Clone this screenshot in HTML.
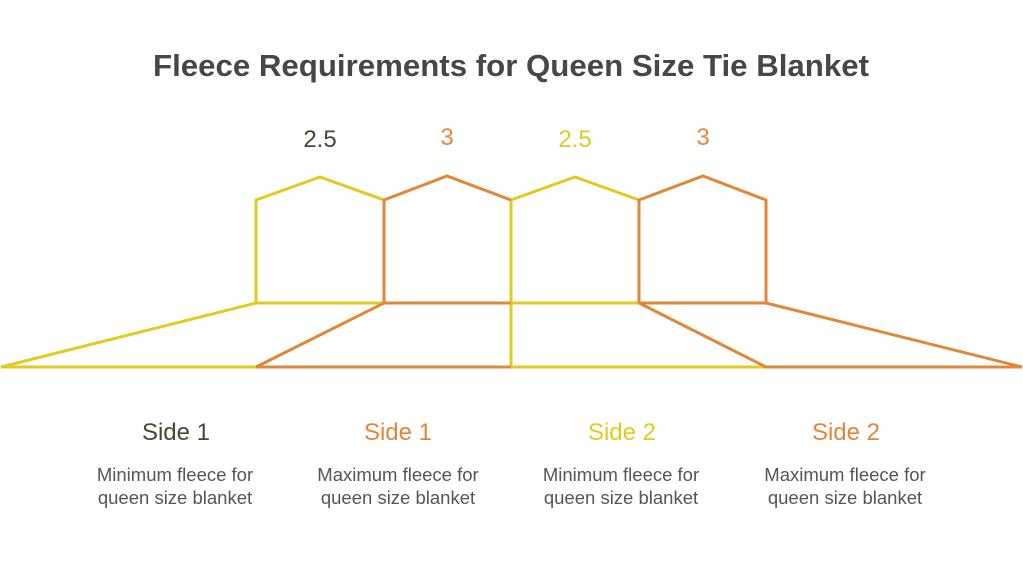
<!DOCTYPE html>
<html><head><style>
body{margin:0;background:#fff;width:1023px;height:558px;overflow:hidden;font-family:"Liberation Sans",sans-serif}
</style></head><body>
<svg width="1023" height="558" viewBox="0 0 1023 558" xmlns="http://www.w3.org/2000/svg" font-family="Liberation Sans, sans-serif">
<text x="511" y="76" text-anchor="middle" font-size="31" font-weight="bold" fill="#474747" textLength="716" lengthAdjust="spacingAndGlyphs">Fleece Requirements for Queen Size Tie Blanket</text>
<g font-size="24" text-anchor="middle">
<text x="320" y="147" fill="#4a4830">2.5</text>
<text x="447" y="145" fill="#e0873a">3</text>
<text x="575" y="147" fill="#e2cb1f">2.5</text>
<text x="703" y="145" fill="#e0873a">3</text>
</g>
<g fill="none" stroke-width="3" stroke-linejoin="miter">
<path d="M256,303 L256,200 L320,177 L384,200 M256,303 L384,303 M256,303 L1,367 L256,367" stroke="#e2cb1f"/>
<path d="M511,367 L511,200 L575,177 L639,200 M511,303 L639,303 M511,367 L766,367" stroke="#e2cb1f"/>
<path d="M384,303 L384,200 L447,176 L511,200 M384,303 L511,303 M384,303 L256,367 L511,367" stroke="#e0873a"/>
<path d="M639,303 L639,200 L703,176 L766,200 L766,303 L639,303 M639,303 L766,367 L1022,367 L766,303" stroke="#e0873a"/>
</g>
<g font-size="24" text-anchor="middle">
<text x="176" y="440" fill="#4a4830">Side 1</text>
<text x="398" y="440" fill="#e0873a">Side 1</text>
<text x="622" y="440" fill="#e2cb1f">Side 2</text>
<text x="846" y="440" fill="#e0873a">Side 2</text>
</g>
<g font-size="18.5" text-anchor="middle" fill="#555">
<text x="175" y="481">Minimum fleece for</text><text x="175" y="504">queen size blanket</text>
<text x="398" y="481">Maximum fleece for</text><text x="398" y="504">queen size blanket</text>
<text x="621" y="481">Minimum fleece for</text><text x="621" y="504">queen size blanket</text>
<text x="845" y="481">Maximum fleece for</text><text x="845" y="504">queen size blanket</text>
</g>
</svg>
</body></html>
